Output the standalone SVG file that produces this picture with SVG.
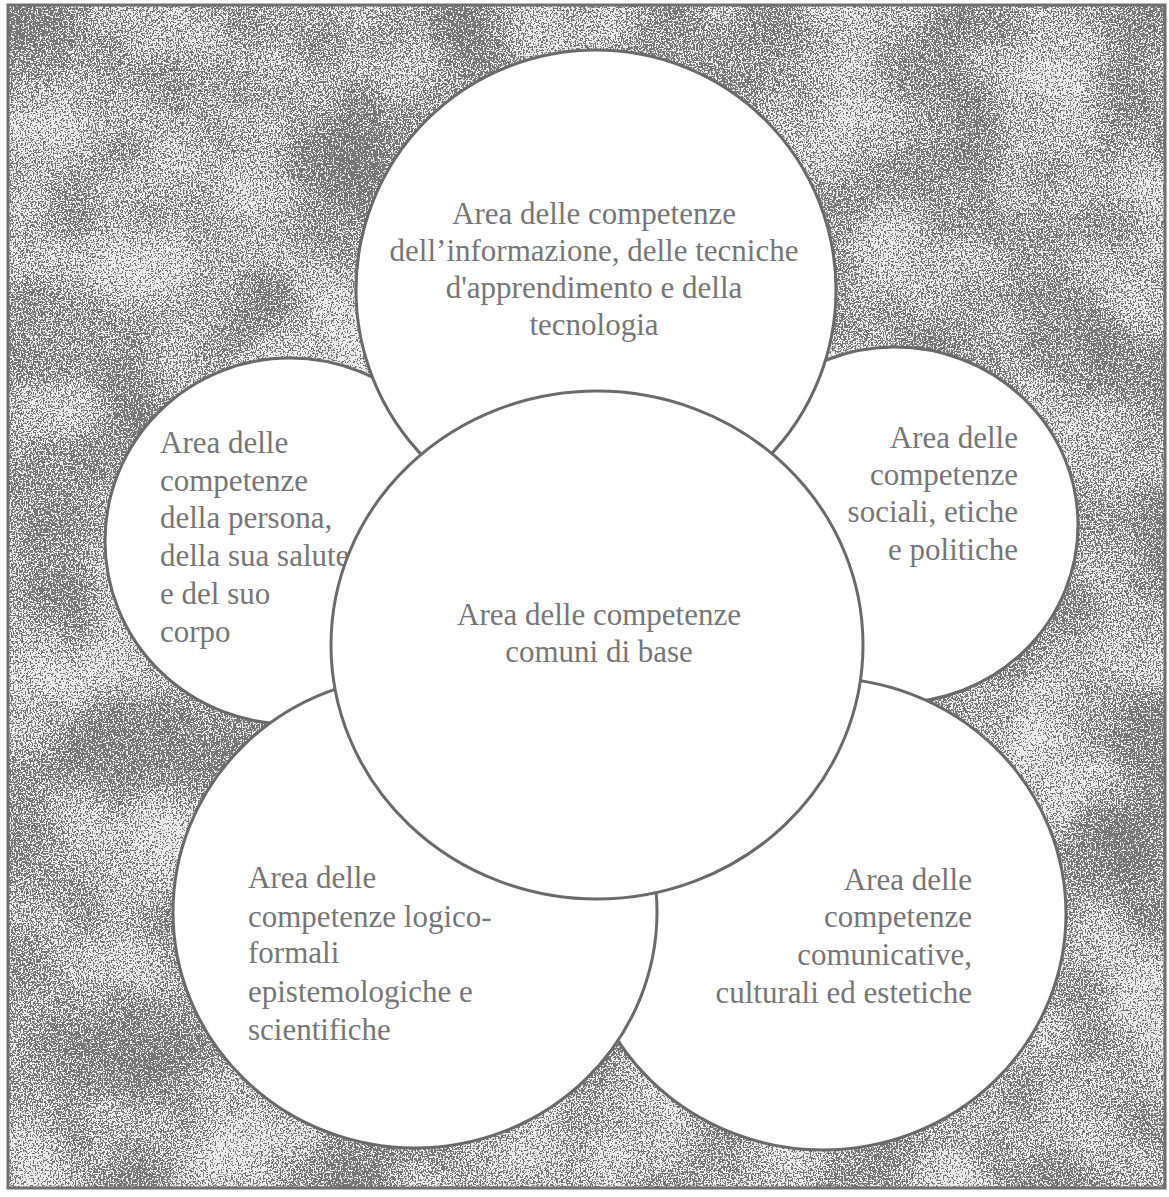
<svg xmlns="http://www.w3.org/2000/svg" width="1169" height="1197" viewBox="0 0 1169 1197">
  <defs>
    <filter id="speckle" x="0" y="0" width="1" height="1" color-interpolation-filters="sRGB">
      <feTurbulence type="fractalNoise" baseFrequency="0.6" numOctaves="2" seed="4" result="hi"/>
      <feColorMatrix in="hi" type="matrix" values="1 0 0 0 0  1 0 0 0 0  1 0 0 0 0  0 0 0 0 1" result="hiG"/>
      <feTurbulence type="fractalNoise" baseFrequency="0.01" numOctaves="2" seed="9" result="lo"/>
      <feColorMatrix in="lo" type="matrix" values="1 0 0 0 0  1 0 0 0 0  1 0 0 0 0  0 0 0 0 1" result="loG"/>
      <feComposite in="hiG" in2="loG" operator="arithmetic" k1="0" k2="0.9" k3="0.3" k4="-0.1" result="mix"/>
      <feComponentTransfer in="mix">
        <feFuncR type="discrete" tableValues="0.47 0.47 0.92 0.92"/>
        <feFuncG type="discrete" tableValues="0.47 0.47 0.92 0.92"/>
        <feFuncB type="discrete" tableValues="0.47 0.47 0.92 0.92"/>
        <feFuncA type="table" tableValues="1 1"/>
      </feComponentTransfer>
    </filter>
  </defs>
  <style>
    .area { fill: #ffffff; stroke: #6a6a6a; stroke-width: 3; }
    .lbl { font-family: "Liberation Serif", "Times New Roman", serif; font-size: 31px; fill: #767676; }
    .mid { text-anchor: middle; }
    .end { text-anchor: end; }
  </style>

  <rect x="0" y="0" width="1169" height="1197" fill="#ffffff"/>
  <rect id="background" x="8" y="5" width="1157" height="1183" fill="#bdbdbd" filter="url(#speckle)"/>
  <rect id="frame" x="8" y="5" width="1157" height="1183" fill="none" stroke="#6f6f6f" stroke-width="3"/>

  <g id="connectors"/>

  <g id="node-persona">
    <ellipse class="area" cx="290" cy="541" rx="185" ry="183"/>
    <text class="lbl" x="160" y="453">Area delle</text>
    <text class="lbl" x="160" y="491">competenze</text>
    <text class="lbl" x="160" y="528">della persona,</text>
    <text class="lbl" x="160" y="566">della sua salute</text>
    <text class="lbl" x="160" y="604">e del suo</text>
    <text class="lbl" x="160" y="642">corpo</text>
  </g>

  <g id="node-sociali">
    <ellipse class="area" cx="895" cy="525" rx="183" ry="178"/>
    <text class="lbl end" x="1018" y="448">Area delle</text>
    <text class="lbl end" x="1018" y="485">competenze</text>
    <text class="lbl end" x="1018" y="522">sociali, etiche</text>
    <text class="lbl end" x="1018" y="560">e politiche</text>
  </g>

  <g id="node-informazione">
    <ellipse class="area" cx="596" cy="290" rx="240" ry="240"/>
    <text class="lbl mid" x="594" y="224">Area delle competenze</text>
    <text class="lbl mid" x="594" y="261">dell’informazione, delle tecniche</text>
    <text class="lbl mid" x="594" y="298">d'apprendimento e della</text>
    <text class="lbl mid" x="594" y="335">tecnologia</text>
  </g>

  <g id="node-comunicative">
    <ellipse class="area" cx="823" cy="914" rx="243" ry="236"/>
    <text class="lbl end" x="972" y="890">Area delle</text>
    <text class="lbl end" x="972" y="927">competenze</text>
    <text class="lbl end" x="972" y="965">comunicative,</text>
    <text class="lbl end" x="972" y="1003">culturali ed estetiche</text>
  </g>

  <g id="node-logico">
    <ellipse class="area" cx="415" cy="912" rx="242" ry="236"/>
    <text class="lbl" x="248" y="888">Area delle</text>
    <text class="lbl" x="248" y="927">competenze logico-</text>
    <text class="lbl" x="248" y="963">formali</text>
    <text class="lbl" x="248" y="1002">epistemologiche e</text>
    <text class="lbl" x="248" y="1040">scientifiche</text>
  </g>

  <g id="node-comuni">
    <ellipse class="area" cx="597" cy="645" rx="266" ry="254"/>
    <text class="lbl mid" x="599" y="625">Area delle competenze</text>
    <text class="lbl mid" x="599" y="662">comuni di base</text>
  </g>
</svg>
